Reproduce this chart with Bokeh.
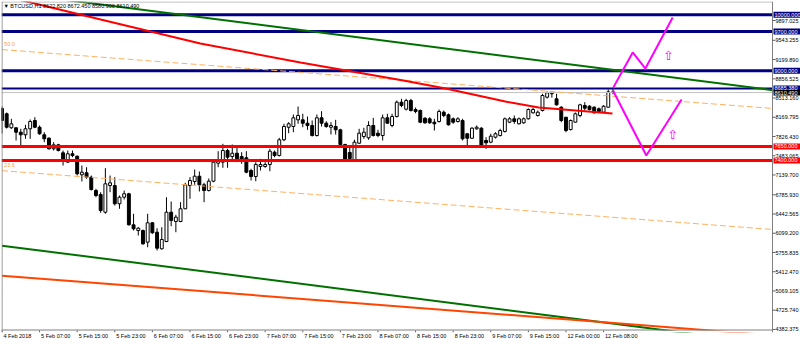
import numpy as np
from bokeh.plotting import figure
from bokeh.models import Range1d, FixedTicker, Label, CustomJSTickFormatter
from bokeh.embed import file_html
from bokeh.resources import INLINE
from bokeh.core.properties import value

FONT = "Liberation Sans"

# ---------------- data ----------------
x_tick_bars = list(range(0, 129, 8))
x_tick_labels = ["4 Feb 2018", "5 Feb 07:00", "5 Feb 15:00", "5 Feb 23:00", "6 Feb 07:00",
                 "6 Feb 15:00", "6 Feb 23:00", "7 Feb 07:00", "7 Feb 15:00", "7 Feb 23:00",
                 "8 Feb 07:00", "8 Feb 15:00", "8 Feb 23:00", "9 Feb 07:00", "9 Feb 15:00",
                 "12 Feb 00:00", "12 Feb 08:00"]
y_tick_values = [4382.375, 4725.740, 5069.105, 5412.470, 5755.835, 6099.200, 6442.565,
                 6785.930, 7139.700, 7483.065, 7826.430, 8169.795, 8513.160, 8856.525,
                 9199.890, 9543.255, 9897.025]

opens = [8326, 8232, 7982, 7982, 7903, 7857, 7964, 8112, 7992, 7857,
         7796, 7607, 7678, 7535, 7368, 7518, 7475, 7143, 7178, 7100,
         6862, 6791, 6475, 6951, 6951, 6625, 6743, 6804, 6250, 6148,
         6148, 5940, 6286, 6118, 5822, 5952, 6475, 6309, 6309, 6536,
         6951, 7023, 7118, 6964, 6862, 7029, 7350, 7368, 7576, 7469,
         7528, 7469, 7446, 7219, 7112, 7291, 7291, 7327, 7546, 7487,
         7768, 7992, 8005, 8124, 8124, 8064, 8023, 7844, 8160, 8064,
         7992, 8005, 7946, 7684, 7541, 7410, 7707, 7826, 7803, 8023,
         7885, 7844, 8160, 8023, 8183, 8439, 8314, 8469, 8308, 8290,
         8153, 8142, 8082, 8094, 8260, 8214, 8142, 8094, 8112, 7875,
         7796, 7964, 7975, 7755, 7725, 7814, 7844, 7916, 8082, 8142,
         8053, 8071, 8142, 8249, 8201, 8290, 8528, 8590, 8499, 8349,
         8171, 7951, 8082, 8201, 8380, 8367, 8349, 8321, 8260, 8349,
         8622.82]
highs = [8362, 8255, 8142, 7987, 7964, 8035, 8130, 8171, 8023, 7903,
         7814, 7725, 7696, 7576, 7576, 7576, 7487, 7308, 7278, 7130,
         6893, 6832, 7261, 7130, 7100, 6773, 6862, 6821, 6447, 6207,
         6166, 6447, 6297, 6190, 6207, 6743, 6666, 6429, 6654, 7000,
         7100, 7237, 7202, 7000, 7077, 7398, 7564, 7696, 7607, 7684,
         7625, 7546, 7564, 7250, 7368, 7428, 7368, 7607, 7576, 7803,
         8053, 8082, 8219, 8362, 8232, 8183, 8112, 8219, 8278, 8099,
         8082, 8124, 7964, 7696, 7648, 7768, 7964, 7982, 8099, 8160,
         7946, 8219, 8232, 8232, 8469, 8499, 8499, 8499, 8344, 8308,
         8171, 8171, 8142, 8308, 8290, 8237, 8166, 8171, 8142, 7880,
         7992, 8023, 7992, 7814, 7875, 7903, 7964, 8166, 8171, 8201,
         8166, 8166, 8326, 8344, 8290, 8589, 8630, 8640, 8589, 8367,
         8171, 8130, 8255, 8410, 8439, 8385, 8367, 8344, 8385, 8665,
         8672.45]
lows = [7880, 7969, 7964, 7755, 7666, 7785, 7785, 7975, 7857, 7725,
        7594, 7576, 7559, 7308, 7362, 7457, 7130, 7023, 7071, 6862,
        6743, 6464, 6447, 6832, 6594, 6536, 6702, 6237, 6148, 6059,
        5893, 5850, 6090, 5791, 5809, 5940, 6225, 6118, 6297, 6529,
        6714, 6964, 6845, 6654, 6845, 7011, 7278, 7268, 7268, 7398,
        7368, 7339, 7171, 7041, 7029, 7219, 7268, 7207, 7457, 7469,
        7743, 7885, 7903, 8053, 7992, 7946, 7826, 7826, 8005, 7982,
        7862, 7862, 7666, 7398, 7398, 7398, 7696, 7785, 7768, 7826,
        7814, 7755, 8053, 7992, 8166, 8349, 8290, 8273, 8242, 8064,
        8053, 8053, 7933, 8076, 8171, 8023, 8053, 8076, 7755, 7666,
        7785, 7946, 7653, 7607, 7707, 7791, 7826, 7898, 8064, 8053,
        8041, 8053, 8130, 8237, 8183, 8273, 8505, 8520, 8380, 8082,
        7903, 7933, 8076, 8171, 8290, 8290, 8237, 8255, 8249, 8344,
        8580.90]
closes = [8112, 7992, 8053, 7903, 7857, 7964, 8094, 7992, 7875, 7785,
          7607, 7678, 7576, 7380, 7518, 7487, 7161, 7189, 7100, 6880,
          6773, 6505, 6982, 7000, 6625, 6743, 6804, 6250, 6179, 6190,
          5911, 6286, 6107, 5833, 5988, 6475, 6327, 6386, 6536, 6964,
          7041, 7118, 6964, 6862, 7029, 7368, 7398, 7576, 7457, 7528,
          7428, 7410, 7189, 7112, 7327, 7327, 7327, 7564, 7487, 7768,
          8005, 8053, 8160, 8201, 8064, 8023, 7844, 8160, 8064, 8005,
          8023, 7946, 7684, 7410, 7434, 7725, 7885, 7903, 8023, 7844,
          7844, 8160, 8064, 8183, 8439, 8380, 8469, 8290, 8273, 8082,
          8071, 8071, 8053, 8273, 8201, 8035, 8082, 8142, 7785, 7796,
          7975, 7992, 7666, 7714, 7832, 7875, 7933, 8142, 8142, 8094,
          8142, 8142, 8308, 8308, 8260, 8558, 8606, 8600, 8392, 8112,
          7933, 8112, 8232, 8392, 8332, 8308, 8249, 8273, 8367, 8623,
          8610.49]

blue_levels = [10000.0, 9700.0, 9000.0]
blue_level_2 = 8685.38
bid_price = 8610.49
red_levels = [7650.0, 7400.0]

level_box_values = [10000.0, 9700.0, 9000.0, 8685.38, 8610.49, 7650.0, 7400.0]
level_box_texts = ["10000.000", "9700.000", "9000.000", "8685.380", "8610.490", "7650.000", "7400.000"]
level_box_colors = ["#000080", "#000080", "#000080", "#000080", "#000000", "#FF0000", "#FF0000"]

green_upper_x = [0, 164]
green_upper_y = [10408, 8653]
green_lower_x = [0, 164]
green_lower_y = [5878, 4123]
orange_x = [0, 164]
orange_y = [5343, 4277]
fibo50_x = [0, 164]
fibo50_y = [9378, 8327]
fibo236_x = [0, 164]
fibo236_y = [7217, 6166]
ma_x = [-0.3, 6.1, 21.0, 42.2, 63.5, 85.4, 94.4, 107.1, 114.2, 129.9]
ma_y = [10350, 10218, 9915, 9486, 9147, 8826, 8683, 8450, 8344, 8237]
mag_up_x = [130, 134.2, 136.9, 142.7]
mag_up_y = [8690, 9326, 9040, 9951]
mag_dn_x = [130, 137.1, 144.6]
mag_dn_y = [8648, 7487, 8487]
arrow_x = [141.8, 142.7]
arrow_y = [9272, 7862]

title_text = "\u25BC BTCUSD,H1  8622.820 8672.450 8580.900 8610.490"

# ---------------- layout constants (pixels) ----------------
PX_PER_BAR = 4.7
PRICE_PER_PX = 17.85
FRAME_W, FRAME_H = 799, 331          # frame: canvas px 1..800 x 1..332
X0 = -0.1
X1 = X0 + FRAME_W / PX_PER_BAR
Y_TOP = 10236.2
Y_BOT = Y_TOP - FRAME_H * PRICE_PER_PX
Y_BORDER = Y_TOP - 329 * PRICE_PER_PX   # chart bottom border at canvas px 330


def bar_at(px):
    return X0 + (px - 1) / PX_PER_BAR


AXIS_X = bar_at(772)

p = figure(frame_width=FRAME_W, frame_height=FRAME_H,
           x_range=Range1d(X0, X1), y_range=Range1d(Y_BOT, Y_TOP),
           output_backend="svg", toolbar_location=None, y_axis_location=None,
           min_border_left=1, min_border_right=0, min_border_top=1, min_border_bottom=12)
p.background_fill_color = "white"
p.border_fill_color = "white"
p.outline_line_color = None
p.grid.visible = False

# x axis labels, left-aligned just right of their tick marks
cw = {" ": .278, ":": .278, "F": .611, "e": .556, "b": .556}
lab_w_px = [5.5 * sum(cw.get(ch, .556) for ch in t) for t in x_tick_labels]
label_centres = [b + (1.5 + w / 2) / PX_PER_BAR for b, w in zip(x_tick_bars, lab_w_px)]
ax = p.xaxis[0]
ax.ticker = FixedTicker(ticks=label_centres)
ax.formatter = CustomJSTickFormatter(args=dict(labels=x_tick_labels), code="return labels[index];")
ax.major_tick_out = 0
ax.major_tick_in = 0
ax.major_tick_line_color = None
ax.minor_tick_line_color = None
ax.axis_line_color = None
ax.major_label_standoff = 0
ax.major_label_text_font_size = "5.5px"
ax.major_label_text_font = FONT
ax.major_label_text_color = "#000000"

# candles
o = np.array(opens, dtype=float)
h = np.array(highs, dtype=float)
l = np.array(lows, dtype=float)
c = np.array(closes, dtype=float)
idx = np.arange(len(o))
inc = c >= o
dec = ~inc

p.segment(idx, h, idx, l, line_color="black", line_width=1)
p.vbar(x=idx[inc], width=0.62, top=c[inc], bottom=o[inc],
       fill_color="white", line_color="black", line_width=1)
p.vbar(x=idx[dec], width=0.62, top=o[dec], bottom=c[dec],
       fill_color="black", line_color="black", line_width=1)

# horizontal levels (up to the price scale)
p.segment(X0, [bid_price], AXIS_X, [bid_price], line_color="#C0C0C0", line_width=1)
p.segment(X0, blue_levels, AXIS_X, blue_levels, line_color="#000080", line_width=3)
p.segment(X0, [blue_level_2], AXIS_X, [blue_level_2], line_color="#000080", line_width=2)
p.segment(X0, red_levels, AXIS_X, red_levels, line_color="#FF0000", line_width=3)

# trend lines
p.line(fibo50_x, fibo50_y, line_color="#FFB060", line_width=1, line_dash="6 3")
p.line(fibo236_x, fibo236_y, line_color="#FFB060", line_width=1, line_dash="6 3")
p.line(green_upper_x, green_upper_y, line_color="#007000", line_width=2)
p.line(green_lower_x, green_lower_y, line_color="#007000", line_width=2)
p.line(orange_x, orange_y, line_color="#FF4500", line_width=2)
p.line(ma_x, ma_y, line_color="#FF0000", line_width=2)

# projection
p.line(mag_up_x, mag_up_y, line_color="#FF00FF", line_width=2)
p.line(mag_dn_x, mag_dn_y, line_color="#FF00FF", line_width=2)
p.text(x=arrow_x, y=arrow_y, text=["\u21E7", "\u21E7"], text_color="#FF00FF",
       text_font_size="13px", text_align="center", text_baseline="middle",
       text_font=value("DejaVu Sans"))

# blank areas outside the chart box (right of price scale, below bottom border)
p.quad(left=AXIS_X, right=X1, bottom=Y_BOT, top=Y_TOP, fill_color="white", line_color=None)
p.quad(left=X0, right=X1, bottom=Y_BOT, top=Y_BORDER, fill_color="white", line_color=None)

# chart box borders
p.segment(X0 + 0.5 / PX_PER_BAR, Y_BOT, X0 + 0.5 / PX_PER_BAR, Y_TOP, line_color="#808080", line_width=1)
p.segment(X0, Y_BORDER + 0.5 * PRICE_PER_PX, AXIS_X, Y_BORDER + 0.5 * PRICE_PER_PX,
          line_color="#808080", line_width=1)
p.segment(X0, Y_TOP - 0.5 * PRICE_PER_PX, AXIS_X, Y_TOP - 0.5 * PRICE_PER_PX,
          line_color="#B0B0B0", line_width=1)

# time-scale tick marks
p.segment(x_tick_bars, Y_BORDER, x_tick_bars, Y_BOT, line_color="#606060", line_width=1)

# price scale
p.segment(AXIS_X, Y_BOT, AXIS_X, Y_TOP, line_color="#808080", line_width=1)
p.segment(AXIS_X, y_tick_values, AXIS_X + 3 / PX_PER_BAR, y_tick_values, line_color="#606060", line_width=1)
p.text(x=bar_at(775), y=y_tick_values, text=["%.3f" % v for v in y_tick_values],
       text_color="#000000", text_font_size="5.5px", text_font=value(FONT),
       text_align="left", text_baseline="middle")

# coloured price boxes
half_h = 3.0 * PRICE_PER_PX
p.quad(left=bar_at(773), right=X1,
       bottom=[v - half_h for v in level_box_values], top=[v + half_h for v in level_box_values],
       fill_color=level_box_colors, line_color=None)
p.text(x=bar_at(774), y=level_box_values, text=level_box_texts, text_color="white",
       text_font_size="5.5px", text_font=value(FONT), text_align="left", text_baseline="middle")

# fibo labels
for y, t in [(9477, "50.0"), (7318, "23.6")]:
    p.add_layout(Label(x=0.45, y=y, text=t, text_color="#FFA040", text_font_size="5.5px",
                       text_font=FONT, text_baseline="middle", text_align="left"))

# title
p.add_layout(Label(x=0.3, y=10147, text=title_text, text_color="#000000",
                   text_font_size="5.5px", text_font=FONT, text_baseline="middle",
                   text_align="left"))

open("out.html", "w").write(file_html(p, INLINE))
